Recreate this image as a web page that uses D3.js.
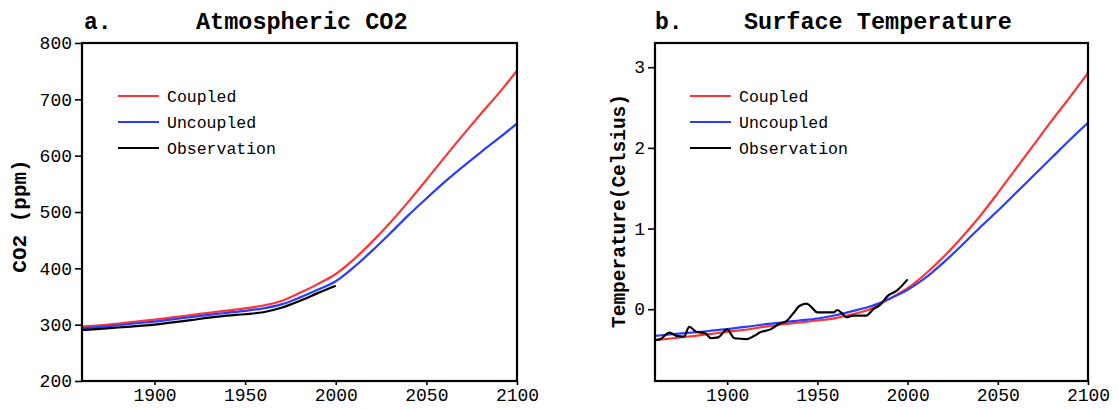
<!DOCTYPE html>
<html><head><meta charset="utf-8">
<script src="https://cdn.jsdelivr.net/npm/d3@7"></script>
<style>
html,body{margin:0;padding:0;background:#fff;}
svg{display:block;}
text{font-family:"Liberation Mono","DejaVu Sans Mono",monospace;fill:#000;}
</style></head>
<body>
<svg id="chart" width="1118" height="410"></svg>
<script>
// ---------- DATA ----------
const seriesNames = ["Coupled", "Uncoupled", "Observation"];
const seriesColors = ["#ff3333", "#2a3cff", "#000000"];

// Panel a: atmospheric CO2 (ppm)
const co2Years = [1860,1870,1880,1890,1900,1910,1920,1930,1940,1950,1960,1970,1980,1990,2000,2010,2020,2030,2040,2050,2060,2070,2080,2090,2100];
const co2Coupled   = [296.5,299,302,305.5,309,313,317,321,325,329,334,342,356,372,390,416,447,481,518,557,597,636,674,711,751];
const co2Uncoupled = [293.5,296,299,302.5,305.5,309.5,313.5,317.5,321,324.5,329,336,348,362,377,402,431,462,494,524,553,580,606,631,657];
const co2ObsYears  = [1860,1870,1880,1890,1900,1910,1920,1930,1940,1950,1960,1970,1980,1990,2000];
const co2Obs       = [290.5,292.5,295,297.5,300,304,308,312.5,316,318.5,322,330,342,356,369];
const co2Ticks = [200,300,400,500,600,700,800];

// Panel b: surface temperature (Celsius)
const tYears = [1860,1870,1880,1890,1900,1910,1920,1930,1940,1950,1960,1970,1980,1990,2000,2010,2020,2030,2040,2050,2060,2070,2080,2090,2100];
const tCoupled   = [-0.385,-0.36,-0.335,-0.31,-0.28,-0.255,-0.22,-0.19,-0.165,-0.14,-0.11,-0.06,0.01,0.13,0.26,0.44,0.65,0.89,1.15,1.44,1.74,2.04,2.34,2.63,2.93];
const tUncoupled = [-0.33,-0.31,-0.29,-0.27,-0.245,-0.22,-0.19,-0.165,-0.14,-0.115,-0.075,-0.02,0.04,0.13,0.24,0.39,0.58,0.79,1.01,1.22,1.44,1.66,1.88,2.10,2.31];
const tObsYears = [1860,1863,1868,1872,1876,1879,1883,1888,1891,1895,1900,1904,1911,1915,1918,1924,1929,1933,1937,1940,1944,1947,1950,1959,1961,1964,1966,1970,1977,1981,1985,1989,1994,2000];
const tObs      = [-0.385,-0.37,-0.29,-0.33,-0.34,-0.22,-0.28,-0.30,-0.36,-0.35,-0.25,-0.36,-0.37,-0.33,-0.29,-0.25,-0.18,-0.145,-0.04,0.04,0.07,0.02,-0.04,-0.04,-0.01,-0.06,-0.10,-0.08,-0.08,0.0,0.06,0.165,0.23,0.37];
const tTicks = [0,1,2,3];

const xTicks = [1900,1950,2000,2050,2100];

// ---------- DRAW ----------
const svg = d3.select("#chart");

function panel(cfg){
  const g = svg.append("g");
  const x = d3.scaleLinear().domain([1860,2100]).range([cfg.left, cfg.right]);
  const y = d3.scaleLinear().domain(cfg.yDomain).range([cfg.bottom, cfg.top]);

  // axes
  const xAxis = d3.axisBottom(x).tickValues(xTicks).tickFormat(d3.format("d")).tickSize(4).tickPadding(3);
  const yAxis = d3.axisLeft(y).tickValues(cfg.yTicks).tickFormat(d3.format("d")).tickSize(7).tickPadding(3);
  const gx = g.append("g").attr("transform", `translate(0,${cfg.bottom})`).call(xAxis);
  const gy = g.append("g").attr("transform", `translate(${cfg.left},0)`).call(yAxis);
  [gx, gy].forEach(a => {
    a.select(".domain").remove();
    a.selectAll(".tick line").attr("stroke","#000").attr("stroke-width",1.6);
    a.selectAll(".tick text").style("font-family",'"Liberation Mono",monospace').style("font-size","18px").attr("fill","#000");
  });
  gx.selectAll(".tick text").attr("dy","0.72em");

  // lines
  const line = d3.line().x(d => x(d[0])).y(d => y(d[1])).curve(d3.curveMonotoneX);
  const clipId = "clip" + cfg.id;
  svg.append("clipPath").attr("id", clipId).append("rect")
    .attr("x", cfg.left).attr("y", cfg.top).attr("width", cfg.right - cfg.left).attr("height", cfg.bottom - cfg.top);
  const lg = g.append("g").attr("clip-path", `url(#${clipId})`);
  cfg.series.forEach((s, i) => {
    lg.append("path")
      .datum(d3.zip(s.years, s.values))
      .attr("fill","none").attr("stroke", seriesColors[i]).attr("stroke-width", 2.2)
      .attr("stroke-linejoin","round")
      .attr("d", line);
  });

  // frame
  g.append("rect").attr("x", cfg.left).attr("y", cfg.top)
    .attr("width", cfg.right - cfg.left).attr("height", cfg.bottom - cfg.top)
    .attr("fill","none").attr("stroke","#000").attr("stroke-width",2.2);

  // titles
  g.append("text").attr("x", cfg.tagX).attr("y", 29).text(cfg.tag)
    .style("font-size","23px").style("font-weight","bold");
  g.append("text").attr("x", cfg.titleX).attr("y", 29).text(cfg.title)
    .style("font-size","23.5px").style("font-weight","bold");

  // y label
  g.append("text")
    .attr("transform", `translate(${cfg.yLabelX},${cfg.yLabelY}) rotate(-90)`)
    .attr("text-anchor","middle").attr("dy","0.35em")
    .text(cfg.yLabel).style("font-size", cfg.yLabelSize).style("font-weight","bold");

  // legend
  seriesNames.forEach((n, i) => {
    const ly = 96 + i * 26;
    g.append("line").attr("x1", cfg.legX).attr("x2", cfg.legX + 41).attr("y1", ly).attr("y2", ly)
      .attr("stroke", seriesColors[i]).attr("stroke-width", 2.2);
    g.append("text").attr("x", cfg.legX + 49).attr("y", ly).attr("dy","0.35em")
      .text(n).style("font-size","16.5px");
  });
}

panel({
  id:"a", left:82, right:517, top:43, bottom:381, yDomain:[200,800], yTicks:co2Ticks,
  tag:"a.", tagX:84, title:"Atmospheric CO2", titleX:196,
  yLabel:"CO2 (ppm)", yLabelX:19, yLabelY:216, yLabelSize:"21px",
  legX:118,
  series:[{years:co2Years, values:co2Coupled},{years:co2Years, values:co2Uncoupled},{years:co2ObsYears, values:co2Obs}]
});

panel({
  id:"b", left:655, right:1088, top:43, bottom:381, yDomain:[-0.89,3.3], yTicks:tTicks,
  tag:"b.", tagX:655, title:"Surface Temperature", titleX:744,
  yLabel:"Temperature(Celsius)", yLabelX:618, yLabelY:211, yLabelSize:"19.5px",
  legX:690,
  series:[{years:tYears, values:tCoupled},{years:tYears, values:tUncoupled},{years:tObsYears, values:tObs}]
});
</script>
</body></html>
